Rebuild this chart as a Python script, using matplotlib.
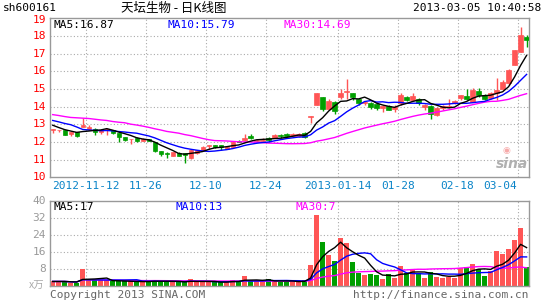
import numpy as np
import pandas as pd
import matplotlib
matplotlib.use("Agg")
import matplotlib.pyplot as plt

# trading days shown (SSE, New Year + Spring Festival closed)
holidays = ["2013-01-01", "2013-01-02", "2013-01-03",
            "2013-02-11", "2013-02-12", "2013-02-13", "2013-02-14", "2013-02-15"]
dates = pd.bdate_range("2012-11-02", "2013-03-05", freq="C", holidays=holidays)

opens = [12.70, 12.66, 12.68, 12.48, 12.55, 12.83, 12.75, 12.73, 12.58, 12.66,
         12.68, 12.51, 12.27, 12.15, 12.20, 12.08, 12.15, 12.00, 11.48, 11.35,
         11.21, 11.40, 11.36, 11.11, 11.38, 11.55, 11.80, 11.83, 11.83, 11.62,
         11.73, 12.05, 12.10, 12.33, 12.05, 12.08, 12.20, 12.25, 12.40, 12.45,
         12.36, 12.34, 12.52, 13.44, 14.12, 14.53, 13.89, 14.27, 14.55, 14.83,
         14.77, 14.42, 14.18, 14.23, 14.14, 13.95, 14.04, 13.89, 14.18, 14.57,
         14.38, 14.44, 14.00, 14.06, 13.54, 13.91, 14.00, 14.20, 14.47, 14.60,
         14.29, 14.89, 14.64, 14.47, 14.75, 15.00, 15.32, 16.35, 17.10, 17.94]
highs = [12.75, 12.68, 12.70, 12.58, 12.57, 13.38, 12.98, 12.77, 12.73, 12.77,
         12.70, 12.53, 12.29, 12.18, 12.30, 12.20, 12.19, 12.02, 11.50, 11.43,
         11.45, 11.42, 11.38, 11.58, 11.57, 11.76, 11.83, 11.85, 11.85, 11.75,
         12.05, 12.10, 12.48, 12.43, 12.18, 12.20, 12.30, 12.43, 12.43, 12.50,
         12.50, 12.49, 12.58, 13.47, 14.78, 14.55, 14.46, 14.30, 15.02, 15.54,
         14.78, 14.46, 14.32, 14.27, 14.21, 14.08, 14.08, 14.08, 14.75, 14.60,
         14.80, 14.47, 14.15, 14.10, 13.97, 14.10, 14.42, 14.35, 14.68, 15.00,
         15.04, 15.04, 14.72, 14.85, 15.60, 15.50, 16.12, 17.23, 18.54, 18.04]
lows = [12.51, 12.56, 12.38, 12.36, 12.27, 12.83, 12.70, 12.40, 12.45, 12.40,
        12.45, 11.99, 12.04, 11.90, 12.00, 12.04, 12.04, 11.43, 11.19, 11.11,
        11.18, 11.18, 10.79, 11.05, 11.34, 11.53, 11.63, 11.68, 11.55, 11.58,
        11.70, 11.98, 12.08, 12.15, 12.02, 12.05, 12.02, 12.20, 12.25, 12.30,
        12.33, 12.30, 12.20, 13.10, 14.10, 13.74, 13.80, 13.60, 14.46, 14.46,
        14.40, 14.12, 14.12, 13.89, 13.80, 13.70, 13.80, 13.70, 14.10, 14.30,
        14.35, 14.10, 13.80, 13.29, 13.48, 13.82, 13.95, 14.15, 14.38, 14.38,
        14.25, 14.57, 14.38, 14.42, 14.38, 14.94, 15.23, 16.35, 17.10, 17.38]
closes = [12.73, 12.68, 12.40, 12.56, 12.35, 12.96, 12.83, 12.58, 12.68, 12.73,
          12.53, 12.30, 12.12, 12.17, 12.08, 12.17, 12.08, 11.48, 11.30, 11.33,
          11.42, 11.22, 11.26, 11.55, 11.55, 11.72, 11.82, 11.70, 11.70, 11.72,
          12.02, 12.02, 12.25, 12.22, 12.12, 12.13, 12.10, 12.40, 12.33, 12.35,
          12.45, 12.45, 12.30, 13.46, 14.78, 13.89, 14.31, 13.76, 14.77, 14.89,
          14.55, 14.23, 14.27, 13.99, 13.95, 14.04, 13.84, 13.99, 14.65, 14.40,
          14.60, 14.23, 14.10, 13.60, 13.90, 14.04, 14.04, 14.30, 14.66, 14.44,
          14.94, 14.66, 14.42, 14.79, 14.94, 15.41, 16.10, 17.19, 18.04, 17.79]
# volume in 10k lots
volumes = [2.0, 2.0, 2.0, 1.4, 1.4, 8.0, 2.5, 2.5, 2.5, 2.5,
           2.0, 2.0, 2.0, 2.0, 2.0, 1.7, 2.0, 2.8, 2.0, 2.0,
           1.7, 1.7, 1.7, 3.3, 1.7, 1.7, 1.7, 1.7, 1.7, 1.7,
           2.8, 2.0, 4.7, 2.0, 2.0, 2.0, 3.3, 2.0, 1.9, 1.9,
           1.9, 1.9, 2.7, 9.7, 33.3, 20.5, 14.4, 11.6, 22.6, 20.2,
           11.1, 6.1, 5.0, 5.5, 5.0, 3.3, 5.5, 3.8, 9.3, 5.8,
           7.7, 5.8, 3.6, 6.4, 4.2, 3.8, 4.2, 3.8, 8.3, 8.9,
           10.2, 7.7, 4.5, 7.1, 16.3, 14.9, 17.3, 21.5, 27.3, 8.6]

# moving-average values at the left edge (history before the window)
ma5_head = [12.95, 12.82, 12.70, 12.62]
ma10_head = [13.22, 13.14, 13.05, 12.98, 12.85, 12.71, 12.68, 12.66, 12.64]
ma30_head = [13.55, 13.50, 13.44, 13.39, 13.37, 13.35, 13.33, 13.29, 13.25, 13.22,
             13.16, 13.12, 13.09, 13.01, 12.96, 12.90, 12.83, 12.75, 12.68, 12.60,
             12.55, 12.50, 12.42, 12.36, 12.28, 12.20, 12.13, 12.08, 12.07]

tick_dates = ["2012-11-12", "2012-11-26", "2012-12-10", "2012-12-24",
              "2013-01-14", "2013-01-28", "2013-02-18", "2013-03-04"]
tick_labels = ["2012-11-12", "11-26", "12-10", "12-24",
               "2013-01-14", "01-28", "02-18", "03-04"]

RED = "#ff5555"
GREEN = "#009f00"
GRID = "#aaaaaa"
FRAME = "#999999"
W, H = 545, 300

def fx(x):
    return x / W

def fy(y):
    return 1 - y / H

df = pd.DataFrame({"open": opens, "high": highs, "low": lows,
                   "close": closes, "vol": volumes}, index=dates)
n = len(df)
xs = np.arange(n)
up = df["close"] >= df["open"]
colors = np.where(up, RED, GREEN)

ma5 = df["close"].rolling(5).mean().values
ma5[:4] = ma5_head
ma10 = df["close"].rolling(10).mean().values
ma10[:9] = ma10_head
ma30 = df["close"].rolling(30).mean().values
ma30[:29] = ma30_head
vma5 = df["vol"].rolling(5, min_periods=1).mean()
vma10 = df["vol"].rolling(10, min_periods=1).mean()
vma30 = df["vol"].rolling(30, min_periods=1).mean()

grid_x = [list(df.index).index(pd.Timestamp(d)) - 0.5 for d in tick_dates]

fig = plt.figure(figsize=(5.45, 3.0), dpi=100)
ax = fig.add_axes([fx(50), fy(177.3), fx(479), 158.9 / H])
axv = fig.add_axes([fx(50), fy(285.7), fx(479), 85 / H])

for a in (ax, axv):
    a.set_xlim(-0.45, n - 0.6)
    a.set_xticks([])
    a.set_yticks([])
    for s in a.spines.values():
        s.set_color(FRAME)
        s.set_linewidth(1)
    for gx in grid_x:
        a.axvline(gx, color=GRID, linestyle=(0, (1, 2)), linewidth=0.8, zorder=0)

# price panel
ax.set_ylim(10, 19)
for p in range(11, 19):
    ax.axhline(p, color=GRID, linestyle=(0, (1, 2)), linewidth=0.8, zorder=0)
ax.vlines(xs, df["low"], df["high"], colors=colors, linewidth=1, zorder=2)
body_lo = np.minimum(df["open"], df["close"])
body_h = np.maximum(np.abs(df["close"] - df["open"]), 0.03)
ax.bar(xs, body_h, bottom=body_lo, width=0.72, color=colors,
       edgecolor=colors, linewidth=0.5, zorder=3)
ax.plot(xs, ma30, color="#ff00ff", linewidth=1, zorder=4)
ax.plot(xs, ma10, color="#0000ff", linewidth=1, zorder=4)
ax.plot(xs, ma5, color="black", linewidth=1, zorder=4)

# volume panel
axv.set_ylim(0, 40)
for v in range(8, 40, 8):
    axv.axhline(v, color=GRID, linestyle=(0, (1, 2)), linewidth=0.8, zorder=0)
axv.bar(xs, df["vol"], width=0.82, color=colors, linewidth=0, zorder=2)
axv.plot(xs, vma30, color="#ff00ff", linewidth=1, zorder=4)
axv.plot(xs, vma10, color="#0000ff", linewidth=1, zorder=4)
axv.plot(xs, vma5, color="black", linewidth=1, zorder=4)

mono = "DejaVu Sans Mono"
cjk = ["Noto Sans CJK SC", "DejaVu Sans"]

# y labels
for p in range(10, 20):
    y = 177.3 - (p - 10) * (158.9 / 9)
    fig.text(fx(46), fy(y + (1.5 if p == 19 else 0)), str(p), color="red",
             fontsize=8, family=mono, ha="right", va="center")
for v in range(8, 48, 8):
    y = 285.7 - v * (85 / 40)
    fig.text(fx(46), fy(y), str(v), color="#999999", fontsize=8, family=mono,
             ha="right", va="center")
fig.text(fx(44), fy(286), "x万", color="#aaaaaa", fontsize=7.5, family=cjk,
         ha="right", va="center")

# x labels
for gx, lab in zip(grid_x, tick_labels):
    xp = 50 + (gx + 0.45) * 479 / (n - 0.6 + 0.45)
    ha = "right" if lab == tick_labels[-1] else "center"
    fig.text(fx(xp + (-1 if ha == "right" else 0)), fy(186), lab, color="#0a84c8",
             fontsize=8, family=mono, ha=ha, va="center")

# header
fig.text(fx(3), fy(8), "sh600161", fontsize=8, family=mono, va="center")
fig.text(fx(121), fy(8), "天坛生物 - 日K线图", fontsize=9, family=cjk, va="center")
fig.text(fx(541), fy(8), "2013-03-05 10:40:58", fontsize=8, family=mono,
         ha="right", va="center")

# MA legends
fig.text(fx(54), fy(25), "MA5:16.87", fontsize=8, family=mono, va="center")
fig.text(fx(168), fy(25), "MA10:15.79", fontsize=8, family=mono, color="#0000ff",
         va="center")
fig.text(fx(283), fy(25), "MA30:14.69", fontsize=8, family=mono, color="#ff00ff",
         va="center")
fig.text(fx(54), fy(207), "MA5:17", fontsize=8, family=mono, va="center")
fig.text(fx(175), fy(207), "MA10:13", fontsize=8, family=mono, color="#0000ff",
         va="center")
fig.text(fx(295), fy(207), "MA30:7", fontsize=8, family=mono, color="#ff00ff",
         va="center")

# watermark
fig.text(fx(506), fy(151), "◉", fontsize=6.5, color="#f7aaaa", ha="center",
         va="center", family="DejaVu Sans")
fig.text(fx(512), fy(164), "sina", fontsize=10, color="#b0b0b0", style="italic",
         weight="bold", ha="center", va="center", family="DejaVu Sans")

# footer
fig.text(fx(50), fy(295), "Copyright 2013 SINA.COM", fontsize=8, family=mono,
         color="#666666", va="center")
fig.text(fx(529), fy(295), "http://finance.sina.com.cn", fontsize=8, family=mono,
         color="#666666", ha="right", va="center")

fig.savefig("out.png", dpi=100)
